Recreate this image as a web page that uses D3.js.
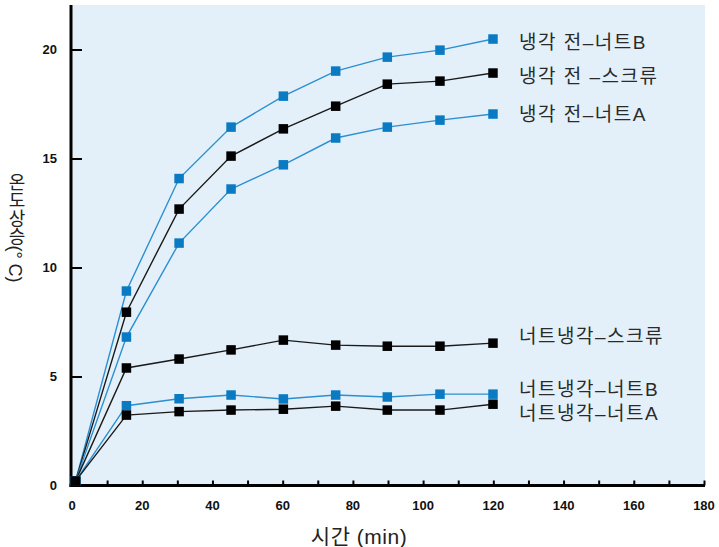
<!DOCTYPE html>
<html><head><meta charset="utf-8">
<script src="https://cdn.jsdelivr.net/npm/d3@7/dist/d3.min.js"></script>
<style>
body{margin:0;background:#fff;}
svg{display:block;}
</style></head>
<body>
<svg id="chart" width="719" height="547"></svg>
<script>
const times = [1, 15.5, 30.5, 45.3, 60.2, 75.1, 89.8, 104.8, 119.9];
const seriesNames = ["냉각 전–너트B", "냉각 전 –스크류", "냉각 전–너트A", "너트냉각–스크류", "너트냉각–너트B", "너트냉각–너트A"];
const seriesKinds = ["blue", "black", "blue", "black", "blue", "black"];
const valsBeforeNutB  = [0.2, 8.92, 14.08, 16.44, 17.86, 19.01, 19.65, 19.97, 20.48];
const valsBeforeScrew = [0.2, 7.95, 12.68, 15.11, 16.36, 17.40, 18.41, 18.55, 18.92];
const valsBeforeNutA  = [0.2, 6.81, 11.12, 13.60, 14.71, 15.94, 16.44, 16.76, 17.04];
const valsNutScrew    = [0.2, 5.39, 5.80, 6.22, 6.67, 6.44, 6.39, 6.39, 6.53];
const valsNutNutB     = [0.2, 3.66, 3.98, 4.15, 3.97, 4.15, 4.06, 4.19, 4.19];
const valsNutNutA     = [0.2, 3.23, 3.39, 3.46, 3.50, 3.64, 3.46, 3.46, 3.73];
const seriesValues = [valsBeforeNutB, valsBeforeScrew, valsBeforeNutA, valsNutScrew, valsNutNutB, valsNutNutA];
const xTicks = [0, 20, 40, 60, 80, 100, 120, 140, 160, 180];
const yTicks = [0, 5, 10, 15, 20];
const xTitle = "시간 (min)";
const yTitle = "온도상승(° C)";

// layout (not data)
const labelDy = [5, 5, 2, -5, -3, 11];
const colors = {blue: {line: "#2b8fd1", mark: "#0a7bc2"}, black: {line: "#1a1a1a", mark: "#000000"}};

(function () {
const svg = d3.select("#chart");
const pLeft = 72, pRight = 704, pTop = 5, pBottom = 485.5;
const x = d3.scaleLinear().domain([0, 180]).range([pLeft, pRight]);
const y = d3.scaleLinear().domain([0, 20]).range([pBottom, 49.5]);

svg.append("rect").attr("x", pLeft).attr("y", pTop).attr("width", 705 - pLeft).attr("height", pBottom - pTop).attr("fill", "#e4f0f9");

// x axis
const xAxis = d3.axisBottom(x).tickValues(d3.range(0, 181, 10)).tickSize(-5).tickFormat("");
const gx = svg.append("g").attr("transform", `translate(0,${pBottom})`).call(xAxis);
gx.select(".domain").remove();
gx.selectAll(".tick line").attr("stroke", "#000").attr("stroke-width", 2);
svg.append("g").selectAll("text").data(xTicks).join("text")
  .attr("x", d => x(d)).attr("y", 510)
  .attr("text-anchor", "middle")
  .attr("font-family", "Liberation Sans, Arial, sans-serif").attr("font-weight", "bold").attr("font-size", 13)
  .attr("fill", "#111").text(d => d);

// y axis
const yAxis = d3.axisLeft(y).tickValues(yTicks).tickSize(-11).tickPadding(14).tickFormat(d => d);
const gy = svg.append("g").attr("transform", `translate(${pLeft - 1},0)`).call(yAxis);
gy.select(".domain").remove();
gy.selectAll(".tick line").attr("stroke", "#000").attr("stroke-width", 2);
gy.selectAll(".tick text").attr("font-family", "Liberation Sans, Arial, sans-serif").attr("font-weight", "bold").attr("font-size", 13).attr("fill", "#111");
gy.selectAll(".tick").filter(d => d === 0).select("line").remove();

svg.append("line").attr("x1", pLeft - 1).attr("x2", pLeft - 1).attr("y1", pTop).attr("y2", pBottom + 1.5).attr("stroke", "#000").attr("stroke-width", 3);
svg.append("line").attr("x1", pLeft - 2.5).attr("x2", 705).attr("y1", pBottom).attr("y2", pBottom).attr("stroke", "#000").attr("stroke-width", 3);

// series
const line = d3.line().x((d, i) => x(times[i])).y(d => y(d));
seriesValues.forEach((vals, s) => {
  const c = colors[seriesKinds[s]];
  svg.append("path").datum(vals).attr("d", line).attr("fill", "none").attr("stroke", c.line).attr("stroke-width", 1.4);
});
const sz = 9.5;
seriesValues.forEach((vals, s) => {
  const c = colors[seriesKinds[s]];
  svg.append("g").selectAll("rect").data(vals).join("rect")
    .attr("x", (d, i) => x(times[i]) - sz / 2).attr("y", d => y(d) - sz / 2)
    .attr("width", sz).attr("height", sz).attr("fill", c.mark);
});

// labels
seriesValues.forEach((vals, s) => {
  svg.append("text")
    .attr("x", 519).attr("y", y(vals[vals.length - 1]) + labelDy[s])
    .attr("dominant-baseline", "middle")
    .attr("font-family", "Liberation Sans, Noto Sans CJK KR, sans-serif").attr("font-size", 19)
    .attr("letter-spacing", 1.5)
    .attr("fill", "#2a2a2a").text(seriesNames[s]);
});

// titles
svg.append("text").attr("x", 359).attr("y", 544).attr("text-anchor", "middle")
  .attr("font-family", "Liberation Sans, Noto Sans CJK KR, sans-serif").attr("font-size", 21)
  .attr("letter-spacing", 0.5).attr("fill", "#222").text(xTitle);
svg.append("text").attr("x", 15).attr("y", 228).attr("text-anchor", "middle")
  .style("writing-mode", "vertical-rl")
  .attr("font-family", "Liberation Sans, Noto Sans CJK KR, sans-serif").attr("font-size", 18).attr("fill", "#222").text(yTitle);
})();
</script>
</body></html>
